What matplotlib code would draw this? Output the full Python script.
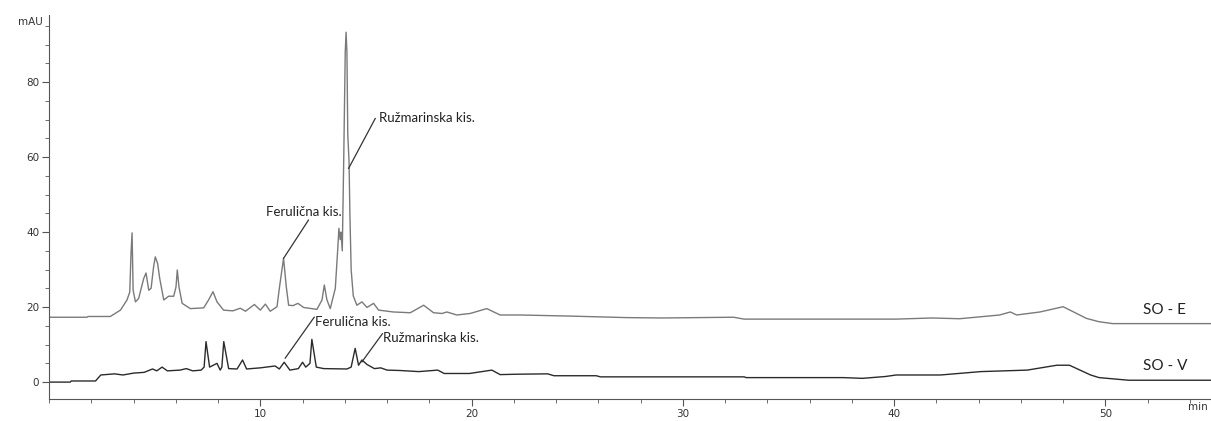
#!/usr/bin/env python3
"""Chromatogram of SO-E and SO-V extracts with ferulic and rosmarinic
acid peaks marked."""
import matplotlib
matplotlib.use("Agg")
import matplotlib.pyplot as plt
from matplotlib.ticker import MultipleLocator


# SO - E trace (time in min, signal in mAU)
E_TIME = [0.0, 1.8, 1.85, 2.9, 3.38, 3.69, 3.82, 3.88, 3.93, 3.98, 4.09, 4.24,
          4.48, 4.59, 4.72, 4.83, 4.95, 5.03, 5.14, 5.24, 5.43, 5.66, 5.9,
          6.01, 6.07, 6.15, 6.3, 6.69, 7.32, 7.55, 7.76, 7.95, 8.26, 8.7,
          9.05, 9.3, 9.72, 10.0, 10.24, 10.47, 10.79, 10.91, 11.1, 11.23,
          11.34, 11.55, 11.78, 12.05, 12.68, 12.92, 13.03, 13.15, 13.31,
          13.55, 13.66, 13.72, 13.78, 13.82, 13.88, 13.95, 14.02, 14.06,
          14.1, 14.14, 14.2, 14.24, 14.3, 14.4, 14.57, 14.81, 15.05, 15.36,
          15.6, 16.3, 17.1, 17.73, 18.2, 18.6, 18.83, 19.3, 19.93, 20.72,
          21.35, 22.3, 24.7, 27.35, 29.0, 32.4, 32.9, 40.1, 41.8, 43.1, 45.0,
          45.5, 45.8, 46.9, 48.0, 48.5, 49.1, 49.7, 50.35, 55.0]
E_SIGNAL = [17.3, 17.3, 17.5, 17.5, 19.2, 21.9, 24.0, 34.3, 39.8, 24.5, 21.4,
            22.3, 27.6, 29.1, 24.5, 25.0, 30.8, 33.4, 31.6, 27.6, 21.9, 22.9,
            22.9, 25.4, 29.9, 25.4, 21.0, 19.6, 19.8, 21.9, 24.1, 21.4, 19.2,
            19.0, 19.7, 18.9, 20.7, 19.2, 20.8, 18.9, 20.1, 25.4, 33.0, 25.4,
            20.5, 20.4, 21.0, 19.9, 19.4, 21.9, 25.9, 22.0, 19.6,
            25.0, 35.0, 41.0, 38.0, 40.0, 35.0, 60.0, 88.0, 93.3,
            88.0, 66.0, 59.0, 45.0, 30.0, 23.0, 20.5, 21.4, 19.9, 21.0,
            19.2, 18.7, 18.5, 20.5, 18.5, 18.3, 18.7, 17.9, 18.3, 19.6,
            17.9, 17.9, 17.6, 17.2, 17.1, 17.3, 16.8, 16.8, 17.1, 16.9, 17.9,
            18.7, 17.9, 18.7, 20.1, 18.7, 17.0, 16.1, 15.6, 15.6]

# SO - V trace
V_TIME = [0.0, 1.0, 1.05, 2.2, 2.45, 3.1, 3.5, 4.0, 4.5, 4.9, 5.1, 5.35,
          5.6, 6.2, 6.5, 6.8, 7.2, 7.34, 7.43, 7.6, 7.95, 8.1, 8.18, 8.27,
          8.5, 8.9, 9.16, 9.35, 10.0, 10.7, 10.9, 11.13, 11.4, 11.8, 12.0,
          12.15, 12.35, 12.44, 12.65, 13.0, 14.1, 14.3, 14.49, 14.65, 14.81,
          15.05, 15.4, 15.7, 16.0, 16.6, 17.5, 18.4, 18.7, 19.9, 20.96,
          21.35, 22.1, 23.6, 23.9, 25.9, 26.1, 32.9, 33.0, 37.6, 38.5, 39.6,
          40.1, 42.2, 44.1, 46.3, 47.7, 48.3, 48.8, 49.3, 49.7, 51.1, 55.0]
V_SIGNAL = [0.0, 0.0, 0.3, 0.3, 1.9, 2.2, 1.9, 2.4, 2.6, 3.5, 3.0, 4.0,
            3.0, 3.2, 3.6, 3.0, 3.2, 4.0, 10.8, 4.0, 5.0, 3.2, 4.0, 10.8,
            3.6, 3.5, 5.9, 3.5, 3.8, 4.3, 3.5, 5.3, 3.2, 3.6, 5.3,
            4.0, 5.0, 11.4, 4.0, 3.6, 3.5, 4.0, 9.0, 4.5, 5.9,
            4.7, 3.6, 3.8, 3.2, 3.1, 2.8, 3.2, 2.3, 2.3, 3.2,
            2.0, 2.1, 2.2, 1.7, 1.7, 1.4, 1.4, 1.2, 1.2, 1.0, 1.5,
            1.9, 1.9, 2.8, 3.2, 4.5, 4.5, 3.2, 1.9, 1.2, 0.5, 0.5]

# peak annotations: label, leader line (peak end, text end), text position
E_LABELS = [("Ferulična kis.", (11.1, 33.0), (12.28, 43.2), (12.05, 45.4), "center"),
            ("Ružmarinska kis.", (14.18, 57.0), (15.44, 70.3), (15.64, 70.3), "left")]
V_LABELS = [("Ferulična kis.", (11.18, 6.4), (12.55, 17.3), (12.6, 16.1), "left"),
            ("Ružmarinska kis.", (14.81, 5.4), (15.78, 12.9), (15.83, 11.7), "left")]

E_COLOR = "#7a7a7a"
V_COLOR = "#2b2b2b"
AXIS_COLOR = "#555555"


def main():
    plt.rcParams.update({
        "font.family": "sans-serif",
        "font.sans-serif": ["DejaVu Sans"],
        "xtick.labelsize": 7.5,
        "ytick.labelsize": 7.5,
    })
    fig = plt.figure(figsize=(12.11, 4.21), dpi=100)
    ax = fig.add_axes([0.0405, 0.0523, 0.9595, 0.9121])

    ax.plot(E_TIME, E_SIGNAL, color=E_COLOR, lw=1.0)
    ax.plot(V_TIME, V_SIGNAL, color=V_COLOR, lw=1.0)

    for label, p0, p1, (tx, ty), ha in E_LABELS + V_LABELS:
        ax.plot([p0[0], p1[0]], [p0[1], p1[1]], color="#333333", lw=0.9)
        ax.text(tx, ty, label, family="Lato", fontsize=9.5,
                ha=ha, va="center", color="#222222")

    ax.text(51.77, 19.2, "SO - E", family="Lato", fontsize=11,
            color="#222222", va="center")
    ax.text(51.77, 4.3, "SO - V", family="Lato", fontsize=11,
            color="#222222", va="center")

    ax.set_xlim(0, 55)
    ax.set_ylim(-4.5, 97.9)
    ax.xaxis.set_minor_locator(MultipleLocator(2))
    ax.yaxis.set_minor_locator(MultipleLocator(5))
    ax.set_xticks([10, 20, 30, 40, 50])
    ax.set_yticks([0, 20, 40, 60, 80])
    ax.tick_params(which="major", length=5, width=0.8, color=AXIS_COLOR,
                   labelcolor="#333333", pad=2)
    ax.tick_params(which="minor", length=3, width=0.6, color=AXIS_COLOR)

    for side in ("top", "right"):
        ax.spines[side].set_visible(False)
    for side in ("left", "bottom"):
        ax.spines[side].set_color(AXIS_COLOR)
        ax.spines[side].set_linewidth(0.8)

    fig.text(0.015, 0.948, "mAU", fontsize=7.5, color="#333333", va="center")
    fig.text(0.989, 0.033, "min", fontsize=7.5, color="#333333",
             va="center", ha="center")

    fig.savefig("out.png", dpi=100)
    plt.close(fig)


if __name__ == "__main__":
    main()
